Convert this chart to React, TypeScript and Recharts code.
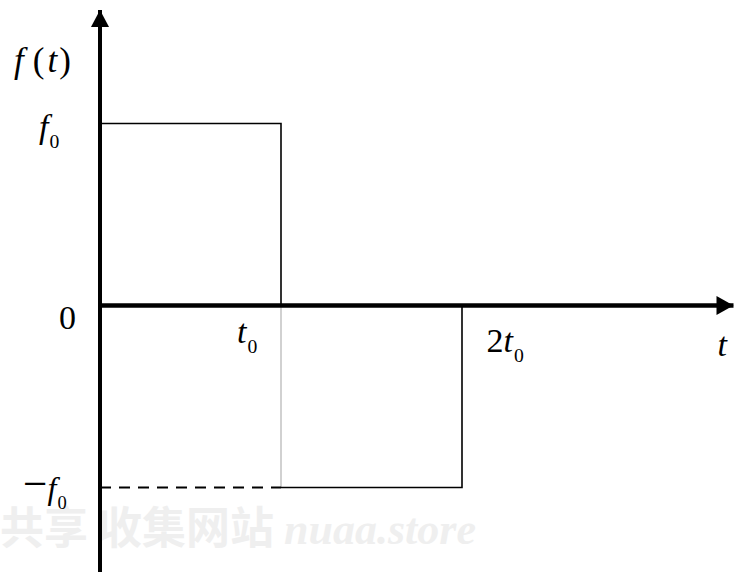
import { ComposedChart, Line, XAxis, YAxis, ReferenceLine, ReferenceDot } from "recharts";

// rectangular doublet: +f0 on [0, t0], -f0 on [t0, 2t0]; t in units of t0, f in units of f0
const upperT = [0, 1, 1];
const upperF = [1, 1, 0];
const lowerT = [1, 2, 2];
const lowerF = [-1, -1, 0];
const dropT = [1, 1];
const dropF = [0, -1];
const guideT = [0, 1];
const guideF = [-1, -1];

const xTickValues = [1, 2, 3.5];
const xTickLabels = ["t0", "2t0", "t"];
const yTickValues = [1, 0, -1];
const yTickLabels = ["f0", "0", "−f0"];
const yAxisName = "f(t)";
const watermarkCjk = "共享 收集网站 ";
const watermarkLatin = "nuaa.store";

const W = 736;
const H = 572;
const X_MAX = 3.5;
const Y_TOP = 1.6236;
const Y_BOTTOM = -1.4643;
const SERIF = "'Liberation Serif', 'Times New Roman', serif";
const FONT_SIZE = 34;

// label offsets from their anchor point, in px
const xLabelOffsets = [
  { dx: -44, dy: 37.5 },
  { dx: 24.5, dy: 46.5 },
  { dx: -16, dy: 50.5 },
];
const yLabelOffsets = [
  { dx: -61, dy: 14.5 },
  { dx: -41, dy: 23.5 },
  { dx: -77, dy: 11.5 },
];

const toPoints = (ts: number[], fs: number[]) => ts.map((t, i) => ({ t, f: fs[i] }));

// letters italic, digits right after a letter become subscripts
const mathText = (s: string, size: number) => {
  const parts: any[] = [];
  let prevLetter = false;
  Array.from(s).forEach((ch, i) => {
    if (/[a-z]/.test(ch)) {
      parts.push(
        <tspan key={i} fontStyle="italic" dx={i > 0 && s[i - 1] === "(" ? 3 : 0}>
          {ch}
        </tspan>
      );
      prevLetter = true;
    } else if (/[0-9]/.test(ch) && prevLetter) {
      parts.push(
        <tspan key={i} fontSize={size * 0.58} dy={size * 0.3} dx={1}>
          {ch}
        </tspan>
      );
      prevLetter = false;
    } else if (ch === "−") {
      // a slightly longer minus sign
      parts.push(
        <tspan key={i} dx={0} fontSize={size * 1.35} dy={-size * 0.04}>
          {ch}
        </tspan>,
        <tspan key={`${i}r`} dy={size * 0.04} fontSize={1}>
          {" "}
        </tspan>
      );
      prevLetter = false;
    } else {
      parts.push(
        <tspan key={i} dx={ch === "(" ? 9 : ch === ")" ? 2 : 0}>
          {ch}
        </tspan>
      );
      prevLetter = false;
    }
  });
  return parts;
};

const labelShape = (text: string, dx: number, dy: number, size: number) => (props: any) => (
  <text x={props.cx + dx} y={props.cy + dy} fontFamily={SERIF} fontSize={size} fill="#000">
    {mathText(text, size)}
  </text>
);

const arrowRight = (props: any) => (
  <polygon
    points={`${props.cx},${props.cy} ${props.cx - 17},${props.cy - 9.5} ${props.cx - 17},${props.cy + 9.5}`}
    fill="#000"
  />
);

const arrowUp = (props: any) => (
  <polygon
    points={`${props.cx},${props.cy} ${props.cx - 9},${props.cy + 17} ${props.cx + 9},${props.cy + 17}`}
    fill="#000"
  />
);

export default function App() {
  return (
    <div style={{ position: "absolute", left: 0, top: 0, width: W, height: H, background: "#fff" }}>
      <svg width={W} height={H} style={{ position: "absolute", left: 0, top: 0 }}>
        <text x={0} y={544} fontSize={44} fontWeight="bold" fill="#efefef" fontFamily="'Noto Sans CJK SC', sans-serif">
          <tspan style={{ whiteSpace: "pre" }}>{watermarkCjk}</tspan>
          <tspan fontFamily={SERIF} fontStyle="italic">
            {watermarkLatin}
          </tspan>
        </text>
      </svg>
      <div style={{ position: "absolute", left: 0, top: 0 }}>
        <ComposedChart width={W} height={H} margin={{ top: 10, right: 2.5, bottom: 0, left: 100 }}>
          <XAxis dataKey="t" type="number" domain={[0, X_MAX]} hide allowDataOverflow />
          <YAxis type="number" domain={[Y_BOTTOM, Y_TOP]} hide allowDataOverflow />

          <Line
            data={toPoints(dropT, dropF)}
            dataKey="f"
            type="linear"
            stroke="#b3b3b3"
            strokeWidth={1.2}
            dot={false}
            isAnimationActive={false}
          />
          <Line
            data={toPoints(guideT, guideF)}
            dataKey="f"
            type="linear"
            stroke="#000"
            strokeWidth={2}
            strokeDasharray="11 8"
            dot={false}
            isAnimationActive={false}
          />
          <Line
            data={toPoints(upperT, upperF)}
            dataKey="f"
            type="linear"
            stroke="#000"
            strokeWidth={1.6}
            dot={false}
            isAnimationActive={false}
          />
          <Line
            data={toPoints(lowerT, lowerF)}
            dataKey="f"
            type="linear"
            stroke="#000"
            strokeWidth={1.6}
            dot={false}
            isAnimationActive={false}
          />

          <ReferenceLine y={0} stroke="#000" strokeWidth={4.5} ifOverflow="visible" />
          <ReferenceLine x={0} stroke="#000" strokeWidth={4} ifOverflow="visible" />
          <ReferenceDot x={X_MAX} y={0} shape={arrowRight} ifOverflow="visible" />
          <ReferenceDot x={0} y={Y_TOP} shape={arrowUp} ifOverflow="visible" />

          <ReferenceDot x={0} y={Y_TOP} shape={labelShape(yAxisName, -86, 62, 35)} ifOverflow="visible" />
          {xTickValues.map((v, i) => (
            <ReferenceDot
              key={`x${i}`}
              x={v}
              y={0}
              shape={labelShape(xTickLabels[i], xLabelOffsets[i].dx, xLabelOffsets[i].dy, FONT_SIZE)}
              ifOverflow="visible"
            />
          ))}
          {yTickValues.map((v, i) => (
            <ReferenceDot
              key={`y${i}`}
              x={0}
              y={v}
              shape={labelShape(yTickLabels[i], yLabelOffsets[i].dx, yLabelOffsets[i].dy, i === 2 ? 32 : FONT_SIZE)}
              ifOverflow="visible"
            />
          ))}
        </ComposedChart>
      </div>
    </div>
  );
}
